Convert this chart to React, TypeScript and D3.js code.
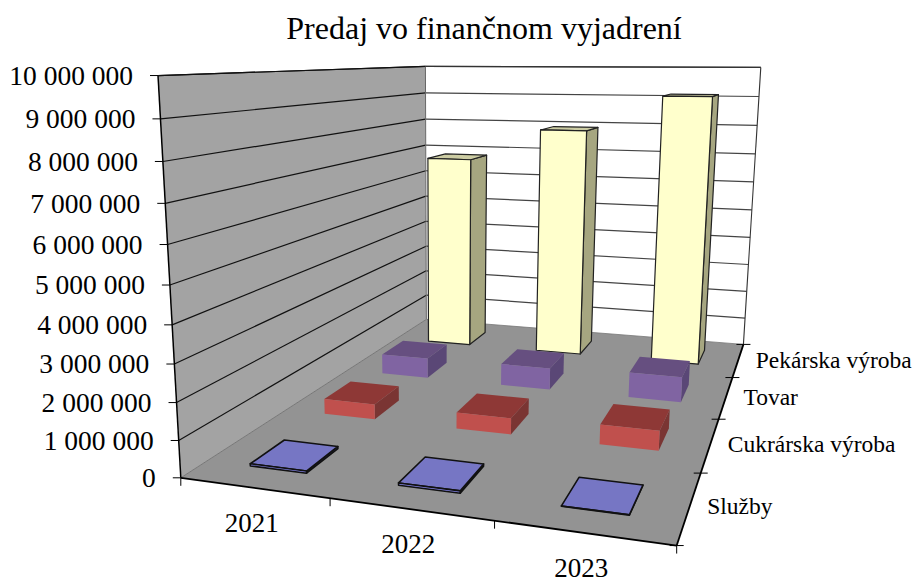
import { useEffect, useRef } from 'react'
import * as d3 from 'd3'

const years = ['2021', '2022', '2023']
const products = ['Služby', 'Cukrárska výroba', 'Tovar', 'Pekárska výroba']
const sluzby = [60000, 60000, 10000]
const cukrarska = [460000, 480000, 570000]
const tovar = [660000, 700000, 800000]
const pekarska = [6800000, 7900000, 9100000]
const valueTicks = [0, 1000000, 2000000, 3000000, 4000000, 5000000, 6000000, 7000000, 8000000, 9000000, 10000000]

const width = 917, height = 581

// camera fit: [x, z, y] in unit space to pixel position of the box corners
const anchors: Array<[number, number, number, number, number]> = [
  [0, 0, 0, 181, 477],
  [1, 0, 0, 677, 546],
  [1, 1, 0, 743.5, 344],
  [0, 1, 0, 426, 320],
  [0, 0, 1, 157.5, 76],
  [0, 1, 1, 426, 66],
  [1, 1, 1, 760.5, 67.5],
]

const solve = (A: number[][], b: number[]) => {
  const n = b.length
  const m = A.map((r, i) => [...r, b[i]])
  for (let c = 0; c < n; c++) {
    let best = c
    for (let r = c + 1; r < n; r++) if (Math.abs(m[r][c]) > Math.abs(m[best][c])) best = r
    ;[m[c], m[best]] = [m[best], m[c]]
    for (let r = 0; r < n; r++) {
      if (r === c) continue
      const f = m[r][c] / m[c][c]
      for (let k = c; k <= n; k++) m[r][k] -= f * m[c][k]
    }
  }
  return m.map((r, i) => r[n] / r[i])
}

const fitCamera = () => {
  const rows: number[][] = []
  const rhs: number[] = []
  anchors.forEach(([X, Z, Y, u, v]) => {
    rows.push([X, Z, Y, 1, 0, 0, 0, 0, -u * X, -u * Z, -u * Y]); rhs.push(u)
    rows.push([0, 0, 0, 0, X, Z, Y, 1, -v * X, -v * Z, -v * Y]); rhs.push(v)
  })
  const idx = d3.range(11)
  const AtA = idx.map(i => idx.map(j => d3.sum(rows, r => r[i] * r[j])))
  const Atb = idx.map(i => d3.sum(rows, (r, k) => r[i] * rhs[k]))
  const p = solve(AtA, Atb)
  return (X: number, Z: number, Y: number): [number, number] => {
    const w = p[8] * X + p[9] * Z + p[10] * Y + 1
    return [(p[0] * X + p[1] * Z + p[2] * Y + p[3]) / w, (p[4] * X + p[5] * Z + p[6] * Y + p[7]) / w]
  }
}

const Chart3D = () => {
  const ref = useRef<SVGSVGElement | null>(null)
  useEffect(() => {
    const el = ref.current
    if (!el) return
    const svg = d3.select(el).attr('viewBox', `0 0 ${width} ${height}`)
    const project = fitCamera()
    const x = d3.scaleBand<string>().domain(years).range([0, 1]).paddingInner(0.61).paddingOuter(0.305)
    const xTicks = d3.scaleLinear().domain([0, years.length]).range([0, 1])
    const z = d3.scaleBand<string>().domain(products).range([0, 1]).paddingInner(0.575).paddingOuter(0.2875)
    const zTicks = d3.scaleLinear().domain([0, products.length]).range([0, 1])
    const y = d3.scaleLinear().domain([0, 10000000]).range([0, 1])
    const fmt = d3.formatLocale({ decimal: ',', thousands: ' ', grouping: [3], currency: ['', ''] }).format(',d')
    const line = d3.line<[number, number]>()

    const face = (g: any, pts: Array<[number, number, number]>, fill: string, stroke = 'none', sw = 1.2) =>
      g.append('path')
        .attr('d', line(pts.map(q => project(q[0], q[1], q[2]))) + 'Z')
        .attr('fill', fill).attr('stroke', stroke).attr('stroke-width', sw).attr('stroke-linejoin', 'round')
    const seg = (g: any, a: [number, number, number], b: [number, number, number], stroke: string, w = 1) =>
      g.append('path')
        .attr('d', line([project(a[0], a[1], a[2]), project(b[0], b[1], b[2])]))
        .attr('stroke', stroke).attr('stroke-width', w).attr('fill', 'none')

    // walls and floor
    const box = svg.append('g')
    face(box, [[0, 0, 0], [0, 1, 0], [0, 1, 1], [0, 0, 1]], '#a3a3a3')
    face(box, [[0, 1, 0], [1, 1, 0], [1, 1, 1], [0, 1, 1]], '#ffffff')
    face(box, [[0, 0, 0], [1, 0, 0], [1, 1, 0], [0, 1, 0]], '#939393')
    valueTicks.forEach(v => {
      if (v > 0) {
        seg(box, [0, 0, y(v)], [0, 1, y(v)], '#111', 1.2)
        seg(box, [0, 1, y(v)], [1, 1, y(v)], '#444', 1.2)
      }
    })
    seg(box, [0, 1, 0], [0, 1, 1], '#666', 1)
    seg(box, [1, 1, 0], [1, 1, 1], '#333', 1.1)
    seg(box, [0, 0, 0], [0, 1, 0], '#777', 1)
    seg(box, [0, 1, 0], [1, 1, 0], '#777', 0.8)

    // bars, back row first
    const rows = [
      { name: 'Pekárska výroba', values: pekarska, front: '#ffffcc', side: '#a6a680', top: '#cccca3', stroke: '#222', sw: 1.2 },
      { name: 'Tovar', values: tovar, front: '#8064a2', side: '#5a4776', top: '#664f80', stroke: 'none', sw: 0 },
      { name: 'Cukrárska výroba', values: cukrarska, front: '#c0504d', side: '#7a3533', top: '#8e3836', stroke: 'none', sw: 0 },
      { name: 'Služby', values: sluzby, front: '#8888ee', side: '#4a4a90', top: '#7676c4', stroke: '#111', sw: 1.6 },
    ]
    const bars = svg.append('g')
    rows.forEach(row => {
      const z0 = z(row.name)!, z1 = z0 + z.bandwidth()
      years.forEach((yr, i) => {
        const x0 = x(yr)!, x1 = x0 + x.bandwidth()
        const t = y(row.values[i])
        const g = bars.append('g')
        face(g, [[x1, z0, 0], [x1, z1, 0], [x1, z1, t], [x1, z0, t]], row.side, row.stroke, row.sw)
        face(g, [[x0, z0, t], [x1, z0, t], [x1, z1, t], [x0, z1, t]], row.top, row.stroke, row.sw)
        face(g, [[x0, z0, 0], [x1, z0, 0], [x1, z0, t], [x0, z0, t]], row.front, row.stroke, row.sw)
      })
    })

    // axes
    const axes = svg.append('g')
    seg(axes, [0, 0, 0], [0, 0, 1], '#000', 1.5)
    seg(axes, [0, 0, 1], [0, 1, 1], '#111', 1.2)
    seg(axes, [0, 1, 1], [1, 1, 1], '#333', 1.1)
    seg(axes, [0, 0, 0], [1, 0, 0], '#000', 1.8)
    seg(axes, [1, 0, 0], [1, 1, 0], '#000', 1.8)

    const label = (px: number, py: number, txt: string, size: number, anchor: string) =>
      axes.append('text').attr('x', px).attr('y', py).attr('dy', '0.34em')
        .attr('text-anchor', anchor).attr('font-size', size).attr('font-family', '"Liberation Serif", serif')
        .attr('fill', '#000').text(txt)
    const tick = (x1: number, y1: number, x2: number, y2: number) =>
      axes.append('line').attr('x1', x1).attr('y1', y1).attr('x2', x2).attr('y2', y2)
        .attr('stroke', '#000').attr('stroke-width', 1)

    valueTicks.forEach(v => {
      const [px, py] = project(0, 0, y(v))
      tick(px - 8, py, px, py)
      label(px - 25, py, fmt(v), 27.5, 'end')
    })
    d3.range(years.length + 1).forEach(i => {
      const [px, py] = project(xTicks(i), 0, 0)
      tick(px, py, px, py + 8)
    })
    years.forEach(yr => {
      const [px, py] = project(x(yr)! + x.bandwidth() / 2, 0, 0)
      label(px - 2, py + 35, yr, 27, 'middle')
    })
    d3.range(products.length + 1).forEach(i => {
      const [px, py] = project(1, zTicks(i), 0)
      tick(px - 7, py, px + 7, py)
    })
    products.forEach(p => {
      const [px, py] = project(1, z(p)! + z.bandwidth() / 2, 0)
      label(px + 17.5, py, p, 23.5, 'start')
    })
    label(484, 28, 'Predaj vo finančnom vyjadrení', 32, 'middle')

    return () => { svg.selectAll('*').remove() }
  }, [])
  return <svg ref={ref} width={width} height={height} style={{ position: 'absolute', left: 0, top: 0, background: '#fff' }} />
}

export default function App() {
  return <Chart3D />
}
